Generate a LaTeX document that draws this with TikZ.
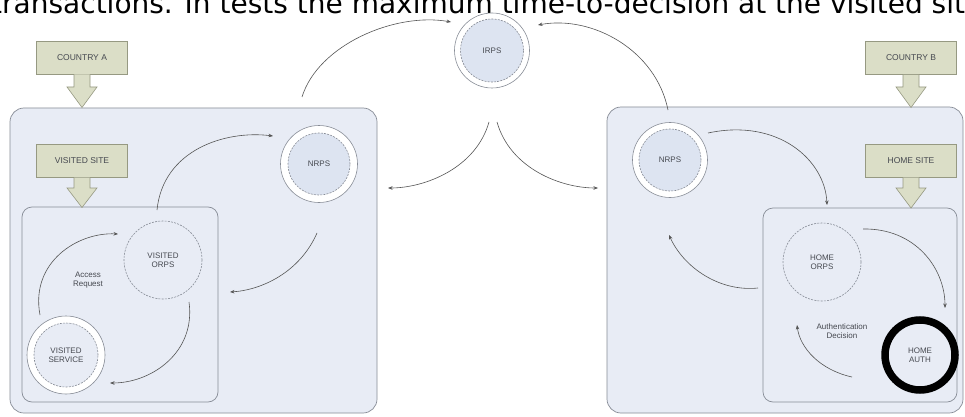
\documentclass[tikz,border=0pt]{standalone}
\usepackage{fontspec}
\setmainfont{Liberation Sans}
\newfontfamily\topfont{DejaVu Sans}
\usetikzlibrary{arrows.meta}
\definecolor{boxfill}{RGB}{232,236,245}
\definecolor{boxline}{RGB}{135,140,150}
\definecolor{circfill}{RGB}{221,228,241}
\definecolor{tagfill}{RGB}{219,222,199}
\definecolor{tagline}{RGB}{150,153,130}
\definecolor{txt}{RGB}{70,73,80}
\definecolor{arr}{RGB}{85,85,85}
\tikzset{
  bigbox/.style={draw=boxline, fill=boxfill, rounded corners=14pt, line width=0.7pt},
  innerbox/.style={draw=boxline, fill=boxfill, rounded corners=10pt, line width=0.7pt},
  tag/.style={draw=tagline, fill=tagfill, line width=0.6pt, minimum width=91pt, minimum height=33pt, inner sep=0pt, font=\fontsize{8.5}{10}\selectfont, text=txt},
  blk/.style={draw=tagline, fill=tagfill, line width=0.6pt, line join=miter},
  ringout/.style={circle, draw=boxline, fill=white, line width=0.6pt, inner sep=0pt},
  ringin/.style={circle, draw=boxline, dashed, dash pattern=on 2pt off 1.2pt, fill=circfill, line width=0.6pt, inner sep=0pt, font=\fontsize{8}{9.5}\selectfont, text=txt, align=center},
  single/.style={circle, draw=boxline, dash pattern=on 2pt off 1.2pt, fill=boxfill, line width=0.6pt, inner sep=0pt, font=\fontsize{8}{9.5}\selectfont, text=txt, align=center},
  conn/.style={draw=arr, line width=0.6pt, -{Stealth[length=4.5pt,width=3.5pt]}},
  lbl/.style={font=\fontsize{8}{9.5}\selectfont, text=txt, align=center, inner sep=0pt}
}
\begin{document}
\begin{tikzpicture}[x=1pt,y=-1pt]
\useasboundingbox (0,0) rectangle (965,417);
\clip (0,0) rectangle (965,417);
\fill[white] (0,0) rectangle (965,417);

% clipped running text at the top
\node[anchor=base west, inner sep=0pt, font=\topfont\fontsize{28}{30}\selectfont] (toptext) at (-9,14) {transactions. In tests the maximum time-to-decision at the visited site};

% big boxes
\node[bigbox, minimum width=367pt, minimum height=305pt, inner sep=0pt] (bigA) at (193.5,260.5) {};
\node[bigbox, minimum width=356pt, minimum height=306pt, inner sep=0pt] (bigB) at (785,260) {};
% inner boxes
\node[innerbox, minimum width=196pt, minimum height=195pt, inner sep=0pt] (siteA) at (120,304.5) {};
\node[innerbox, minimum width=194pt, minimum height=194pt, inner sep=0pt] (siteB) at (860,305) {};

% tags
\node[tag] (ca) at (82,57.5) {COUNTRY A};
\node[tag] (vs) at (82,161) {VISITED SITE};
\node[tag] (cb) at (911,58) {COUNTRY B};
\node[tag] (hs) at (911,161) {HOME SITE};

% block arrows
\draw[blk] (74,74.5) -- (74,87) -- (67,87) -- (82,107.5) -- (97,87) -- (90,87) -- (90,74.5);
\draw[blk] (74,177.5) -- (74,188) -- (67,188) -- (82,207.5) -- (97,188) -- (90,188) -- (90,177.5);
\draw[blk] (903,75) -- (903,87) -- (896,87) -- (911,107.5) -- (926,87) -- (919,87) -- (919,75);
\draw[blk] (903,177.5) -- (903,188) -- (896,188) -- (911,208) -- (926,188) -- (919,188) -- (919,177.5);

% circles
\node[ringout, minimum size=75pt] (irpsO) at (492,50.5) {};
\node[ringin, minimum size=63pt] (irps) at (492,50.5) {IRPS};
\node[ringout, minimum size=77pt] (nrpsAO) at (319,164) {};
\node[ringin, minimum size=62pt] (nrpsA) at (319,164) {NRPS};
\node[ringout, minimum size=75pt] (nrpsBO) at (670,160) {};
\node[ringin, minimum size=62pt] (nrpsB) at (670,160) {NRPS};
\node[single, minimum size=78pt] (orpsA) at (163,260) {VISITED\\ORPS};
\node[ringout, minimum size=78pt] (servO) at (66,355) {};
\node[ringin, minimum size=64pt, fill=boxfill] (serv) at (66,355) {VISITED\\SERVICE};
\node[single, minimum size=78pt] (orpsB) at (822,262) {HOME\\ORPS};
\node[circle, draw=black, line width=7.5pt, fill=boxfill, minimum size=70pt, inner sep=0pt, font=\fontsize{8}{9.5}\selectfont, text=txt, align=center] (auth) at (920,355) {HOME\\AUTH};

% labels
\node[lbl] (accreq) at (88,280) {Access\\Request};
\node[lbl] (authdec) at (842,331) {Authentication\\Decision};

% connector end points
\coordinate (a1s) at (302,97);   \coordinate (a1e) at (451,22);
\coordinate (a2s) at (668,110);  \coordinate (a2e) at (538,25);
\coordinate (a3s) at (489,122);  \coordinate (a3e) at (388,188);
\coordinate (a4s) at (497,122);  \coordinate (a4e) at (598,188);
\coordinate (a5s) at (157,210);  \coordinate (a5e) at (273,136);
\coordinate (a6s) at (317,233);  \coordinate (a6e) at (230,292);
\coordinate (a7s) at (40,315);   \coordinate (a7e) at (118,234);
\coordinate (a8s) at (189,302);  \coordinate (a8e) at (110,383);
\coordinate (a9s) at (708,133);  \coordinate (a9e) at (827,205);
\coordinate (a10s) at (863,229); \coordinate (a10e) at (945,308);
\coordinate (a11s) at (758,288); \coordinate (a11e) at (669,235);
\coordinate (a12s) at (852,377); \coordinate (a12e) at (797,325);

% connectors
\draw[conn] (a1s) .. controls (318,45) and (395,12) .. (a1e);
\draw[conn] (a2s) .. controls (656,50) and (592,15) .. (a2e);
\draw[conn] (a3s) .. controls (476,168) and (425,188) .. (a3e);
\draw[conn] (a4s) .. controls (510,168) and (560,188) .. (a4e);
\draw[conn] (a5s) .. controls (163,150) and (225,130) .. (a5e);
\draw[conn] (a6s) .. controls (300,272) and (262,290) .. (a6e);
\draw[conn] (a7s) .. controls (30,262) and (78,232) .. (a7e);
\draw[conn] (a8s) .. controls (196,352) and (152,383) .. (a8e);
\draw[conn] (a9s) .. controls (778,118) and (825,160) .. (a9e);
\draw[conn] (a10s) .. controls (915,228) and (945,268) .. (a10e);
\draw[conn] (a11s) .. controls (720,292) and (684,268) .. (a11e);
\draw[conn] (a12s) .. controls (820,370) and (800,348) .. (a12e);
\end{tikzpicture}
\end{document}
